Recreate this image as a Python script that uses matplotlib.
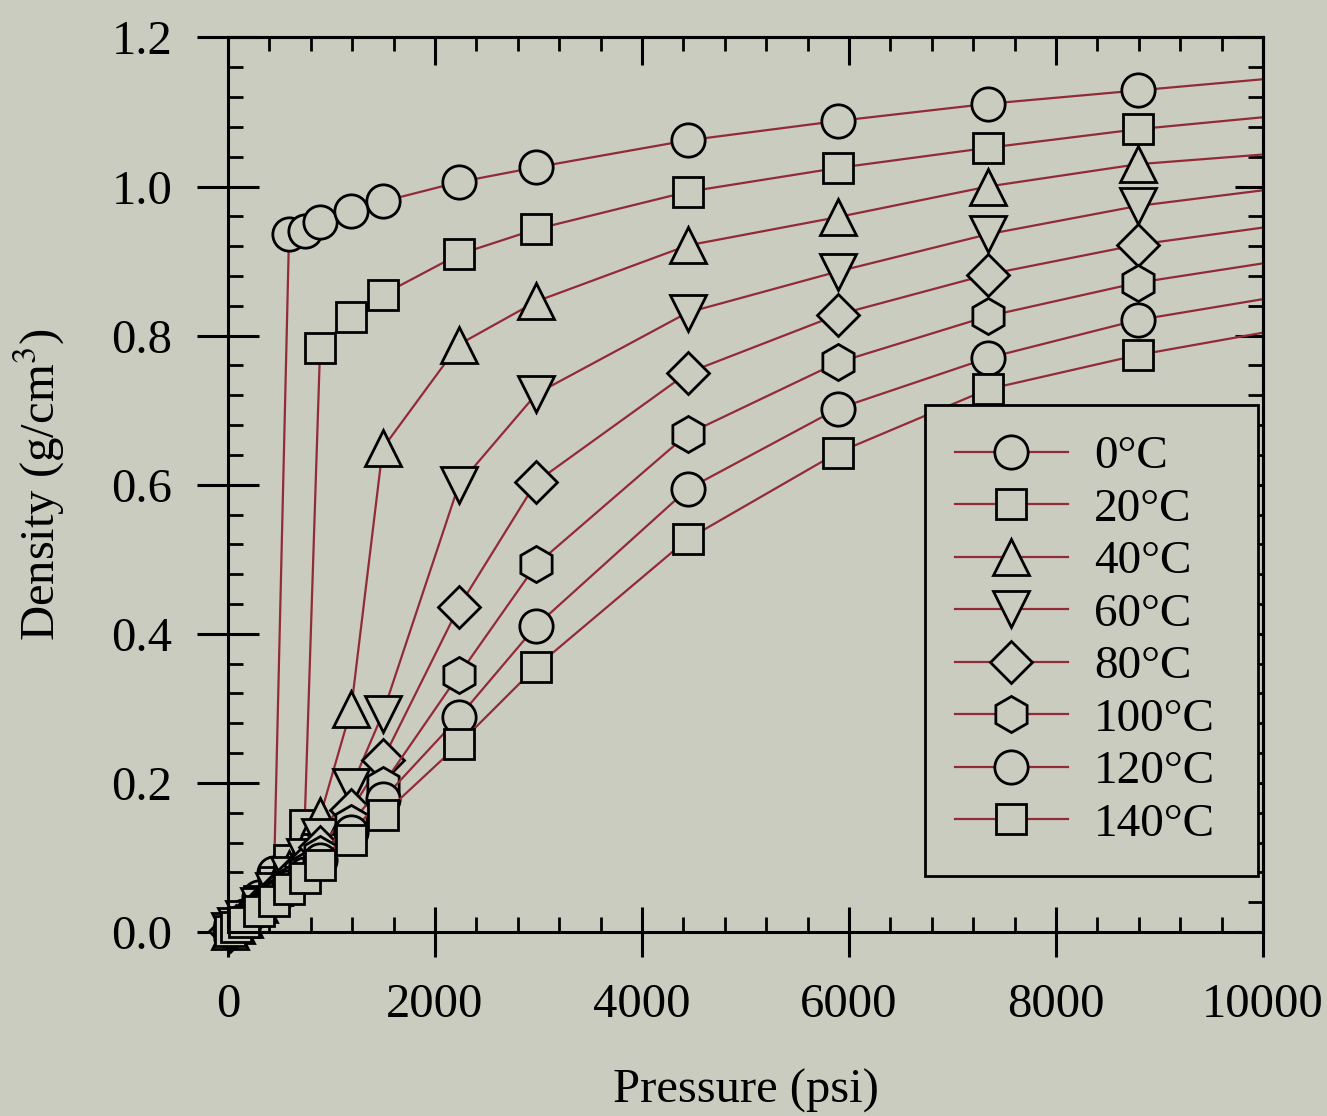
# CO2 density vs pressure at several temperatures
import numpy as np
import matplotlib
matplotlib.use("Agg")
import matplotlib.pyplot as plt
from matplotlib.ticker import MultipleLocator, NullFormatter

plt.rcParams['font.family'] = ['Liberation Serif', 'DejaVu Serif']
plt.rcParams['mathtext.fontset'] = 'stix'

# Data (pressure in psi, density in g/cm3)
# last point of each series is where the line leaves the frame (no marker)
pressure = [15, 75, 150, 300, 445, 590, 740, 890, 1190, 1495,
            2230, 2980, 4440, 5890, 7340, 8790, 10000]

d_0 = [0.002, 0.010, 0.021, 0.047, 0.079, 0.936, 0.941, 0.953, 0.967, 0.980,
       1.006, 1.026, 1.062, 1.088, 1.111, 1.129, 1.144]
d_20 = [0.002, 0.0095, 0.020, 0.042, 0.067, 0.097, 0.143, 0.784, 0.825, 0.855,
        0.909, 0.943, 0.993, 1.025, 1.052, 1.077, 1.093]
d_40 = [0.0017, 0.0088, 0.018, 0.038, 0.060, 0.084, 0.114, 0.155, 0.299, 0.649,
        0.788, 0.846, 0.921, 0.959, 1.000, 1.030, 1.043]
d_60 = [0.0016, 0.0082, 0.017, 0.035, 0.055, 0.076, 0.100, 0.128, 0.194, 0.293,
        0.600, 0.722, 0.831, 0.886, 0.936, 0.974, 0.995]
d_80 = [0.0015, 0.0076, 0.016, 0.033, 0.051, 0.070, 0.090, 0.114, 0.164, 0.231,
        0.436, 0.604, 0.750, 0.828, 0.882, 0.922, 0.945]
d_100 = [0.0014, 0.0072, 0.015, 0.031, 0.047, 0.065, 0.083, 0.104, 0.146, 0.197,
         0.345, 0.493, 0.668, 0.764, 0.826, 0.871, 0.897]
d_120 = [0.0013, 0.0068, 0.014, 0.029, 0.044, 0.061, 0.078, 0.096, 0.134, 0.178,
         0.288, 0.411, 0.594, 0.702, 0.770, 0.821, 0.849]
d_140 = [0.0013, 0.0064, 0.0135, 0.028, 0.042, 0.057, 0.073, 0.090, 0.124, 0.157,
         0.252, 0.356, 0.527, 0.643, 0.728, 0.774, 0.804]

labels = ['0°C', '20°C', '40°C', '60°C', '80°C', '100°C', '120°C', '140°C']
series = [d_0, d_20, d_40, d_60, d_80, d_100, d_120, d_140]
markers = ['o', 's', '^', 'v', 'D', 'h', 'o', 's']
msizes = [24, 22, 26, 26, 21, 26, 24, 22]

bg = '#cbccc0'
line_col = '#922a38'

fig = plt.figure(figsize=(13.27, 11.16), dpi=100, facecolor=bg)
ax = fig.add_axes([0.1718, 0.1649, 0.7800, 0.8015], facecolor=bg)

for d, lab, m, ms in zip(series, labels, markers, msizes):
    ax.plot(pressure, d, color=line_col, lw=1.6, marker=m, ms=ms,
            mfc=bg, mec='black', mew=2.0, markevery=list(range(len(d) - 1)),
            label=lab, clip_on=False)

ax.set_xlim(0, 10000)
ax.set_ylim(0, 1.2)

ax.xaxis.set_major_locator(MultipleLocator(2000))
ax.xaxis.set_minor_locator(MultipleLocator(400))
ax.yaxis.set_major_locator(MultipleLocator(0.2))
ax.yaxis.set_minor_locator(MultipleLocator(0.04))
ax.yaxis.set_major_formatter(plt.FuncFormatter(lambda v, p: '%.1f' % v))

for s in ax.spines.values():
    s.set_linewidth(2.2)

ax.tick_params(which='major', direction='inout', width=2.2, labelsize=35,
               top=False, right=False)
ax.tick_params(axis='y', which='major', length=44, pad=18)
ax.tick_params(axis='x', which='major', length=36, pad=19)
ax.tick_params(which='minor', direction='in', width=2.0, length=11,
               top=False, right=False)

# top and right frame ticks point inwards
top = ax.secondary_xaxis('top')
top.xaxis.set_major_locator(MultipleLocator(2000))
top.xaxis.set_minor_locator(MultipleLocator(400))
top.xaxis.set_major_formatter(NullFormatter())
top.tick_params(which='major', direction='in', length=20, width=2.2)
top.tick_params(which='minor', direction='in', length=10, width=2.0)
top.spines['top'].set_linewidth(2.2)

right = ax.secondary_yaxis('right')
right.yaxis.set_major_locator(MultipleLocator(0.2))
right.yaxis.set_minor_locator(MultipleLocator(0.04))
right.yaxis.set_major_formatter(NullFormatter())
right.tick_params(which='major', direction='in', length=20, width=2.2)
right.tick_params(which='minor', direction='in', length=11, width=2.0)
right.spines['right'].set_linewidth(2.2)

ax.set_xlabel('Pressure (psi)', fontsize=35, labelpad=30)
ax.set_ylabel('Density (g/cm$^3$)', fontsize=35, labelpad=32)

leg = ax.legend(loc='upper left', bbox_to_anchor=(0.673, 0.067, 0.322, 0.522),
                mode='expand', borderaxespad=0, fontsize=34, numpoints=1,
                handlelength=2.4, handletextpad=0.55, labelspacing=0.2,
                borderpad=0.64, fancybox=False, framealpha=1)
leg.get_frame().set_facecolor(bg)
leg.get_frame().set_edgecolor('black')
leg.get_frame().set_linewidth(2.0)

fig.savefig('out.png', dpi=100, facecolor=bg)
